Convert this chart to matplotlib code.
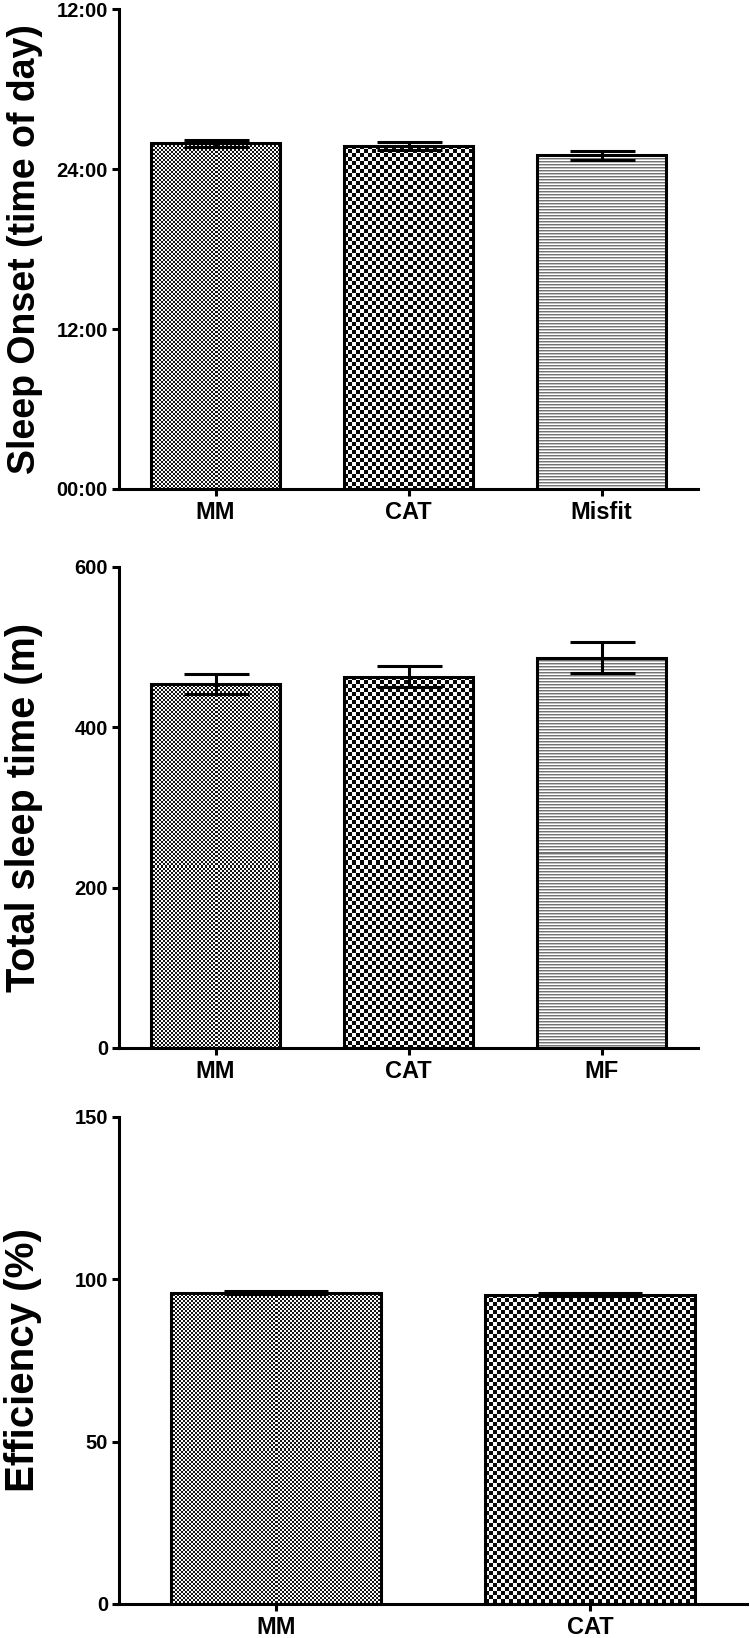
import numpy as np
import matplotlib
matplotlib.use("Agg")
import matplotlib.pyplot as plt

# sleep onset, hours counted from the previous midnight (24 = midnight)
onset_groups = ["MM", "CAT", "Misfit"]
onset_hours = [25.93, 25.75, 25.03]
onset_err = [0.25, 0.30, 0.36]
onset_ticks = [0, 12, 24, 36]
onset_ticklabels = ["00:00", "12:00", "24:00", "12:00"]

# total sleep time, minutes
tst_groups = ["MM", "CAT", "MF"]
tst_minutes = [454, 463, 487]
tst_err = [12, 13, 19]
tst_ticks = [0, 200, 400, 600]

# sleep efficiency, percent
eff_groups = ["MM", "CAT"]
eff_pct = [95.9, 95.3]
eff_err = [0.5, 0.6]
eff_ticks = [0, 50, 100, 150]

patterns = ["fine", "coarse", "lines"]

plt.rcParams["font.family"] = ["Liberation Sans", "DejaVu Sans"]
plt.rcParams["font.weight"] = "bold"

fig = plt.figure(figsize=(7.5, 16.38), dpi=100)


def pattern(kind, h, w):
    yy, xx = np.mgrid[0:h, 0:w]
    if kind == "fine":
        a = ((yy // 2 + xx // 2) % 2) * 0.9 + 0.08
    elif kind == "coarse":
        a = ((yy // 4 + xx // 4) % 2) * 0.95 + 0.03
    else:
        a = np.array([0.45, 0.75, 1.0])[yy % 3]
    return a


def panel(rect, groups, vals, errs, ticks, ticklabels, ylabel, lsize, capsize):
    ax = fig.add_axes(rect)
    x = np.arange(len(groups))
    xlim = (-0.5, len(groups) - 0.5)
    ylim = (ticks[0], ticks[-1])
    ax.set_xlim(*xlim)
    ax.set_ylim(*ylim)
    bars = ax.bar(x, vals, width=0.67, facecolor="none", edgecolor="black",
                  linewidth=2.2, zorder=3)
    for bar, kind in zip(bars, patterns):
        x0, y0 = bar.get_x(), bar.get_y()
        x1, y1 = x0 + bar.get_width(), y0 + bar.get_height()
        (px0, py0), (px1, py1) = ax.transData.transform([(x0, y0), (x1, y1)])
        img = pattern(kind, int(round(py1 - py0)), int(round(px1 - px0)))
        im = ax.imshow(img, extent=(x0, x1, y0, y1), cmap="gray", vmin=0, vmax=1,
                       interpolation="nearest", aspect="auto", zorder=2)
        im.set_clip_path(bar)
    ax.errorbar(x, vals, yerr=errs, fmt="none", ecolor="black", elinewidth=2.2,
                capsize=capsize, capthick=2.2, zorder=4)
    ax.set_xlim(*xlim)
    ax.set_ylim(*ylim)
    ax.set_xticks(x)
    ax.set_xticklabels(groups, fontsize=17, fontweight="bold")
    ax.set_yticks(ticks)
    ax.set_yticklabels(ticklabels, fontsize=14.5, fontweight="bold")
    for s in ["top", "right"]:
        ax.spines[s].set_visible(False)
    for s in ["left", "bottom"]:
        ax.spines[s].set_linewidth(2.2)
    ax.tick_params(direction="out", length=5, width=2.2, pad=3)
    ax.tick_params(axis="x", pad=4)
    ax.set_ylabel(ylabel, fontsize=lsize, fontweight="bold")
    return ax


ax1 = panel([0.1587, 0.7015, 0.772, 0.2929], onset_groups, onset_hours, onset_err,
            onset_ticks, onset_ticklabels, "Sleep Onset (time of day)", 27, 23.4)
ax1.yaxis.set_label_coords(-0.132, 0.5)

ax2 = panel([0.1587, 0.3602, 0.772, 0.2937], tst_groups, tst_minutes, tst_err,
            tst_ticks, [str(t) for t in tst_ticks], "Total sleep time (m)", 28.5, 23.4)
ax2.yaxis.set_label_coords(-0.132, 0.5)

ax3 = panel([0.1587, 0.0208, 0.8373, 0.2973], eff_groups, eff_pct, eff_err,
            eff_ticks, [str(t) for t in eff_ticks], "Efficiency (%)", 29, 37.8)
ax3.yaxis.set_label_coords(-0.122, 0.5)

fig.savefig("out.png", dpi=100)
